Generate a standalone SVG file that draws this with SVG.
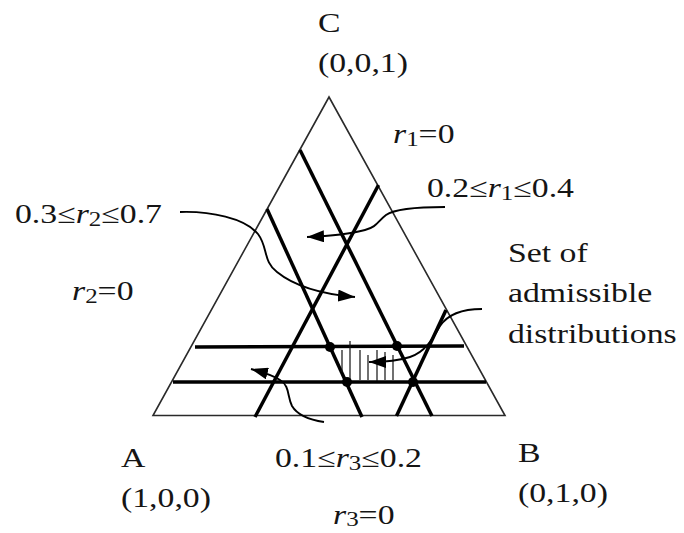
<svg xmlns="http://www.w3.org/2000/svg" width="684" height="533" viewBox="0 0 684 533">
<defs>
<style>
.tri{fill:none;stroke:#2a2a2a;stroke-width:1.6}
.thick{stroke:#000;stroke-width:3.5;fill:none;stroke-linecap:butt}
.hatch{stroke:#111;stroke-width:1.2}
.dot{fill:#000}
.conn{fill:none;stroke:#000;stroke-width:1.9}
text{font-family:"Liberation Serif","Times New Roman",serif;font-size:27px;fill:#151515}
.it{font-style:italic}
.sub{font-size:20px}
</style>
<marker id="ah" viewBox="0 0 17 12" refX="17" refY="6" markerWidth="17" markerHeight="12" markerUnits="userSpaceOnUse" orient="auto">
<path d="M0,0 L17,6 L0,12 z" fill="#000"/>
</marker>
</defs>
<rect width="684" height="533" fill="#fff"/>

<g id="simplex">
<polygon class="tri" points="329,97 505,415.5 153,415.5"/>
</g>

<g id="constraint-lines">
<line class="thick" x1="300" y1="150" x2="432" y2="416"/>
<line class="thick" x1="267" y1="209" x2="362" y2="417"/>
<line class="thick" x1="255" y1="417" x2="378.5" y2="185"/>
<line class="thick" x1="396.5" y1="416" x2="446" y2="310"/>
<line class="thick" x1="195" y1="347" x2="464" y2="346"/>
<line class="thick" x1="173" y1="382" x2="486" y2="382"/>
</g>

<g id="admissible-set">
<line class="hatch" x1="342" y1="350" x2="342" y2="372"/>
<line class="hatch" x1="350" y1="341" x2="350" y2="380"/>
<line class="hatch" x1="360" y1="350" x2="360" y2="380"/>
<line class="hatch" x1="368" y1="355" x2="368" y2="380"/>
<line class="hatch" x1="377" y1="350" x2="377" y2="381"/>
<line class="hatch" x1="385" y1="352" x2="385" y2="380"/>
<line class="hatch" x1="393" y1="355" x2="393" y2="380"/>
<circle class="dot" cx="330" cy="347" r="5"/>
<circle class="dot" cx="397" cy="346" r="5"/>
<circle class="dot" cx="347" cy="382" r="5"/>
<circle class="dot" cx="413" cy="382" r="5"/>
</g>

<g id="connectors">
<path class="conn" marker-end="url(#ah)" d="M180,212 C210,211 245,218 258,234 C268,247 263,262 277,272 C293,285 320,294 355,297"/>
<path class="conn" marker-end="url(#ah)" d="M445,207 C420,207 396,208 386,215 C378,221 377,227 365,230 C350,234 330,236 307,237"/>
<path class="conn" marker-end="url(#ah)" d="M482,309 C462,309 448,314 440,326 C432,340 425,352 410,357 C398,361 385,362 369,362"/>
<path class="conn" marker-end="url(#ah)" d="M324,422 C310,420 298,416 292,406 C287,396 290,386 280,380 C272,375 262,372 251,369"/>
</g>

<g id="labels">
<text transform="matrix(1.25 0 0 1 318 32)">C</text>
<text transform="matrix(1.25 0 0 1 318 72)">(0,0,1)</text>
<text transform="matrix(1.25 0 0 1 393 143)"><tspan class="it">r</tspan><tspan class="sub" dy="3">1</tspan><tspan dy="-3">=0</tspan></text>
<text transform="matrix(1.25 0 0 1 427 197)">0.2≤<tspan class="it">r</tspan><tspan class="sub" dy="3">1</tspan><tspan dy="-3">≤0.4</tspan></text>
<text transform="matrix(1.25 0 0 1 15 223)">0.3≤<tspan class="it">r</tspan><tspan class="sub" dy="3">2</tspan><tspan dy="-3">≤0.7</tspan></text>
<text transform="matrix(1.25 0 0 1 72 300)"><tspan class="it">r</tspan><tspan class="sub" dy="3">2</tspan><tspan dy="-3">=0</tspan></text>
<text transform="matrix(1.25 0 0 1 508 262)">Set of</text>
<text transform="matrix(1.25 0 0 1 508 302)">admissible</text>
<text transform="matrix(1.25 0 0 1 508 343)">distributions</text>
<text transform="matrix(1.25 0 0 1 121 467)">A</text>
<text transform="matrix(1.25 0 0 1 121 507)">(1,0,0)</text>
<text transform="matrix(1.25 0 0 1 275 467)">0.1≤<tspan class="it">r</tspan><tspan class="sub" dy="3">3</tspan><tspan dy="-3">≤0.2</tspan></text>
<text transform="matrix(1.25 0 0 1 518 462)">B</text>
<text transform="matrix(1.25 0 0 1 518 502)">(0,1,0)</text>
<text transform="matrix(1.25 0 0 1 333 524)"><tspan class="it">r</tspan><tspan class="sub" dy="2">3</tspan><tspan dy="-2">=0</tspan></text>
</g>
</svg>
